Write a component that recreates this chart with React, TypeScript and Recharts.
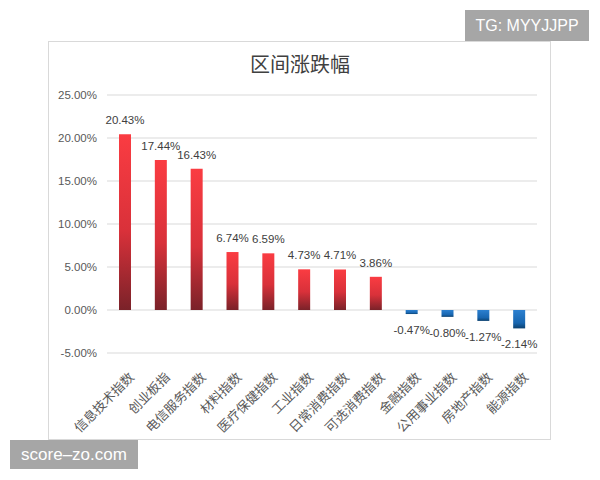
import React from 'react';
import { BarChart, Bar, XAxis, YAxis, CartesianGrid, Cell, LabelList } from 'recharts';

const categories = ['信息技术指数', '创业板指', '电信服务指数', '材料指数', '医疗保健指数', '工业指数', '日常消费指数', '可选消费指数', '金融指数', '公用事业指数', '房地产指数', '能源指数'];
const changes = [20.43, 17.44, 16.43, 6.74, 6.59, 4.73, 4.71, 3.86, -0.47, -0.80, -1.27, -2.14];
const yTicks = [-5, 0, 5, 10, 15, 20, 25];

const data = categories.map((name, i) => ({ name, value: changes[i] }));

const FONT = '"Liberation Sans", "Noto Sans CJK SC", sans-serif';

const ValueLabel = (props: any) => {
  const { x, y, width, height, value } = props;
  const top = Math.min(y, y + height);
  const bottom = Math.max(y, y + height);
  const cx = x + width / 2;
  const ty = value >= 0 ? top - 10 : bottom + 20;
  return (
    <text x={cx} y={ty} textAnchor="middle" fontSize={11.5} fill="#404040" fontFamily={FONT}>
      {value.toFixed(2) + '%'}
    </text>
  );
};

const XTick = (props: any) => {
  const { x, y, payload } = props;
  return (
    <g transform={`translate(${x + 10},${y + 17})`}>
      <text x={0} y={0} textAnchor="end" transform="rotate(-45)" fontSize={13} fill="#595959" fontFamily={FONT}>
        {payload.value}
      </text>
    </g>
  );
};

export default function App() {
  return (
    <div style={{ position: 'fixed', left: 0, top: 0, width: 600, height: 480, background: '#fff' }}>
      <div style={{ position: 'absolute', left: 48, top: 41, width: 503, height: 399, border: '1px solid #d9d9d9', boxSizing: 'border-box' }} />
      <div style={{ position: 'absolute', left: 0, width: 600, top: 50, textAlign: 'center', fontSize: 20, color: '#404040', fontFamily: '"Noto Sans CJK SC", sans-serif', lineHeight: '28px' }}>
        区间涨跌幅
      </div>
      <div style={{ position: 'absolute', left: 0, top: 0 }}>
        <BarChart width={600} height={480} data={data} margin={{ top: 95, right: 63, bottom: 27, left: 0 }}>
          <defs>
            <linearGradient id="redGrad" x1="0" y1="0" x2="0" y2="1">
              <stop offset="0%" stopColor="#fa3c42" />
              <stop offset="55%" stopColor="#d9313a" />
              <stop offset="100%" stopColor="#7a2229" />
            </linearGradient>
            <linearGradient id="blueGrad" x1="0" y1="0" x2="0" y2="1">
              <stop offset="0%" stopColor="#2c80d0" />
              <stop offset="70%" stopColor="#1866b0" />
              <stop offset="100%" stopColor="#0c416f" />
            </linearGradient>
          </defs>
          <CartesianGrid vertical={false} stroke="#d9d9d9" />
          <XAxis dataKey="name" axisLine={false} tickLine={false} interval={0} height={100} tick={<XTick />} />
          <YAxis
            width={107}
            domain={[-5, 25]}
            ticks={yTicks}
            axisLine={false}
            tickLine={false}
            tickFormatter={(v: number) => v.toFixed(2) + '%'}
            tick={{ fontSize: 11.5, fill: '#595959', fontFamily: FONT }}
            tickMargin={4}
          />
          <Bar dataKey="value" barSize={12} isAnimationActive={false}>
            {data.map((d, i) => (
              <Cell key={i} fill={d.value >= 0 ? 'url(#redGrad)' : 'url(#blueGrad)'} />
            ))}
            <LabelList dataKey="value" content={<ValueLabel />} />
          </Bar>
        </BarChart>
      </div>
      <div style={{ position: 'absolute', left: 465, top: 10, width: 124, height: 31, background: '#a6a6a6', color: '#fff', fontSize: 16, fontFamily: '"Liberation Sans", sans-serif', display: 'flex', alignItems: 'center', justifyContent: 'center' }}>
        TG: MYYJJPP
      </div>
      <div style={{ position: 'absolute', left: 10, top: 440, width: 128, height: 29, background: '#a6a6a6', color: '#fff', fontSize: 17, fontFamily: '"Liberation Sans", sans-serif', display: 'flex', alignItems: 'center', justifyContent: 'center' }}>
        score–zo.com
      </div>
    </div>
  );
}
